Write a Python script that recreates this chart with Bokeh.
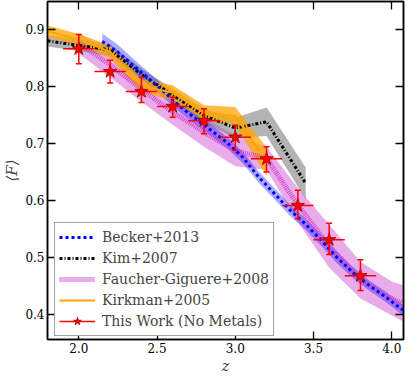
import numpy as np
from bokeh.plotting import figure
from bokeh.models import (ColumnDataSource, Whisker, TeeHead, LinearAxis, FixedTicker,
                          NumeralTickFormatter, Legend, LegendItem, Range1d)
from bokeh.embed import file_html
from bokeh.resources import INLINE

# ---------------- data ----------------
becker_z = [2.15, 2.25, 2.35, 2.45, 2.55, 2.65, 2.75, 2.85, 2.95, 3.05, 3.15,
            3.25, 3.35, 3.45, 3.55, 3.65, 3.75, 3.85, 3.95, 4.05, 4.15]
becker_f = [0.879, 0.860, 0.836, 0.813, 0.789, 0.764, 0.743, 0.722, 0.701, 0.675, 0.641,
            0.612, 0.583, 0.558, 0.530, 0.500, 0.474, 0.452, 0.433, 0.412, 0.392]
becker_err = [0.014, 0.013, 0.012, 0.011, 0.011, 0.010, 0.010, 0.010, 0.010, 0.010, 0.010,
              0.010, 0.010, 0.010, 0.010, 0.010, 0.010, 0.009, 0.009, 0.009, 0.009]

kim_z = [1.8, 2.0, 2.2, 2.4, 2.6, 2.8, 3.0, 3.2, 3.45]
kim_f = [0.880, 0.872, 0.864, 0.821, 0.785, 0.749, 0.727, 0.738, 0.630]
kim_err = [0.010, 0.010, 0.010, 0.010, 0.011, 0.012, 0.018, 0.025, 0.028]

fg_z = [2.0, 2.2, 2.4, 2.6, 2.8, 3.0, 3.2, 3.4, 3.6, 3.8, 4.0, 4.2]
fg_f = [0.876, 0.838, 0.795, 0.755, 0.720, 0.687, 0.674, 0.592, 0.520, 0.460, 0.428, 0.405]
fg_err = [0.018, 0.022, 0.022, 0.022, 0.026, 0.027, 0.020, 0.030, 0.038, 0.032, 0.030, 0.035]

kirk_z = [1.8, 2.0, 2.2, 2.4, 2.6, 2.8, 3.0, 3.2]
kirk_f = [0.897, 0.882, 0.861, 0.801, 0.789, 0.754, 0.748, 0.668]
kirk_err = [0.010, 0.010, 0.011, 0.012, 0.013, 0.013, 0.016, 0.025]

tw_z = [2.0, 2.2, 2.4, 2.6, 2.8, 3.0, 3.2, 3.4, 3.6, 3.8]
tw_f = [0.866, 0.826, 0.791, 0.765, 0.740, 0.711, 0.673, 0.591, 0.531, 0.468]
tw_f_hi = [0.891, 0.846, 0.816, 0.781, 0.761, 0.732, 0.694, 0.618, 0.560, 0.496]
tw_f_lo = [0.840, 0.806, 0.772, 0.746, 0.717, 0.688, 0.650, 0.568, 0.505, 0.442]
tw_z_err = [0.1, 0.1, 0.1, 0.1, 0.1, 0.1, 0.1, 0.1, 0.1, 0.1]

x_ticks = [2.0, 2.5, 3.0, 3.5, 4.0]
y_ticks = [0.4, 0.5, 0.6, 0.7, 0.8, 0.9]
labels = ["Becker+2013", "Kim+2007", "Faucher-Giguere+2008", "Kirkman+2005",
          "This Work (No Metals)"]

FONT = "'DejaVu Serif', serif"

p = figure(frame_width=356, frame_height=338,
           x_range=Range1d(1.8, 4.075), y_range=Range1d(0.3561, 0.949),
           output_backend="svg", toolbar_location=None,
           min_border_left=43, min_border_right=2, min_border_top=1, min_border_bottom=35)
p.xgrid.visible = False
p.ygrid.visible = False
p.outline_line_color = "black"
p.outline_line_width = 1.5


def band(z, f, e, **kw):
    z = np.asarray(z, dtype=float)
    f = np.asarray(f, dtype=float)
    e = np.asarray(e, dtype=float)
    return p.varea(x=z, y1=f - e, y2=f + e, **kw)


band(fg_z, fg_f, fg_err, fill_color="#bf00bf", fill_alpha=0.33)
band(kim_z, kim_f, kim_err, fill_color="#808080", fill_alpha=0.6)
band(becker_z, becker_f, becker_err, fill_color="#0000ff", fill_alpha=0.33)
band(kirk_z, kirk_f, kirk_err, fill_color="#ffa500", fill_alpha=0.75)

r_fg = p.line(fg_z, fg_f, line_color="#cc33cc", line_width=5, line_dash="1 1", line_alpha=0.8)
r_kim = p.line(kim_z, kim_f, line_color="black", line_width=3, line_dash="3 2 1 2")
r_becker = p.line(becker_z, becker_f, line_color="blue", line_width=3, line_dash="3 3")
r_kirk = p.line(kirk_z, kirk_f, line_color="#ffa500", line_width=2)

tz = np.asarray(tw_z)
tze = np.asarray(tw_z_err)
src = ColumnDataSource(dict(z=tw_z, f=tw_f, lo=tw_f_lo, hi=tw_f_hi,
                            zlo=list(tz - tze), zhi=list(tz + tze)))
r_xerr = p.segment(x0="zlo", y0="f", x1="zhi", y1="f", source=src,
                   line_color="red", line_width=1.5)
wy = Whisker(source=src, base="z", lower="lo", upper="hi", dimension="height",
             line_color="red", line_width=1.5, level="glyph",
             upper_head=TeeHead(size=6, line_color="red", line_width=1.5),
             lower_head=TeeHead(size=6, line_color="red", line_width=1.5))
p.add_layout(wy)
r_star = p.scatter("z", "f", source=src, marker="star", size=14,
                   fill_color="red", line_color="#990000", line_width=0.8)

# axes
top = LinearAxis()
right = LinearAxis()
p.add_layout(top, "above")
p.add_layout(right, "right")
for ax in p.xaxis:
    ax.ticker = FixedTicker(ticks=x_ticks)
for ax in p.yaxis:
    ax.ticker = FixedTicker(ticks=y_ticks)
for ax in p.axis:
    ax.formatter = NumeralTickFormatter(format="0.0")
    ax.major_tick_in = 8
    ax.major_tick_out = 0
    ax.minor_tick_in = 0
    ax.minor_tick_out = 0
    ax.axis_line_width = 1.5
    ax.major_tick_line_width = 1.3
    ax.major_label_text_font = FONT
    ax.major_label_text_font_size = "12px"
    ax.major_label_text_color = "black"
    ax.major_label_standoff = 3
top.major_label_overrides = {t: "" for t in x_ticks}
right.major_label_overrides = {t: "" for t in y_ticks}
for ax in (top, right):
    ax.major_label_standoff = 0
    ax.major_label_text_font_size = "0px"

bx = p.below[0]
bx.axis_label = "z"
bx.axis_label_text_font = FONT
bx.axis_label_text_font_style = "italic"
bx.axis_label_text_font_size = "15px"
bx.axis_label_standoff = 1

ly = p.left[0]
ly.axis_label = "⟨F⟩"
ly.axis_label_text_font = FONT
ly.axis_label_text_font_style = "italic"
ly.axis_label_text_font_size = "15px"
ly.axis_label_standoff = 1

legend = Legend(items=[
    LegendItem(label=labels[0], renderers=[r_becker]),
    LegendItem(label=labels[1], renderers=[r_kim]),
    LegendItem(label=labels[2], renderers=[r_fg]),
    LegendItem(label=labels[3], renderers=[r_kirk]),
    LegendItem(label=labels[4], renderers=[r_xerr, r_star]),
], location=(7, 3))
legend.label_text_font = FONT
legend.label_text_font_size = "14px"
legend.glyph_width = 36
legend.glyph_height = 20
legend.label_height = 20
legend.label_standoff = 7
legend.spacing = 1
legend.padding = 4
legend.margin = 0
legend.border_line_color = "#444444"
legend.border_line_width = 1
legend.background_fill_alpha = 1.0
p.add_layout(legend)

open("out.html", "w").write(file_html(p, INLINE))
